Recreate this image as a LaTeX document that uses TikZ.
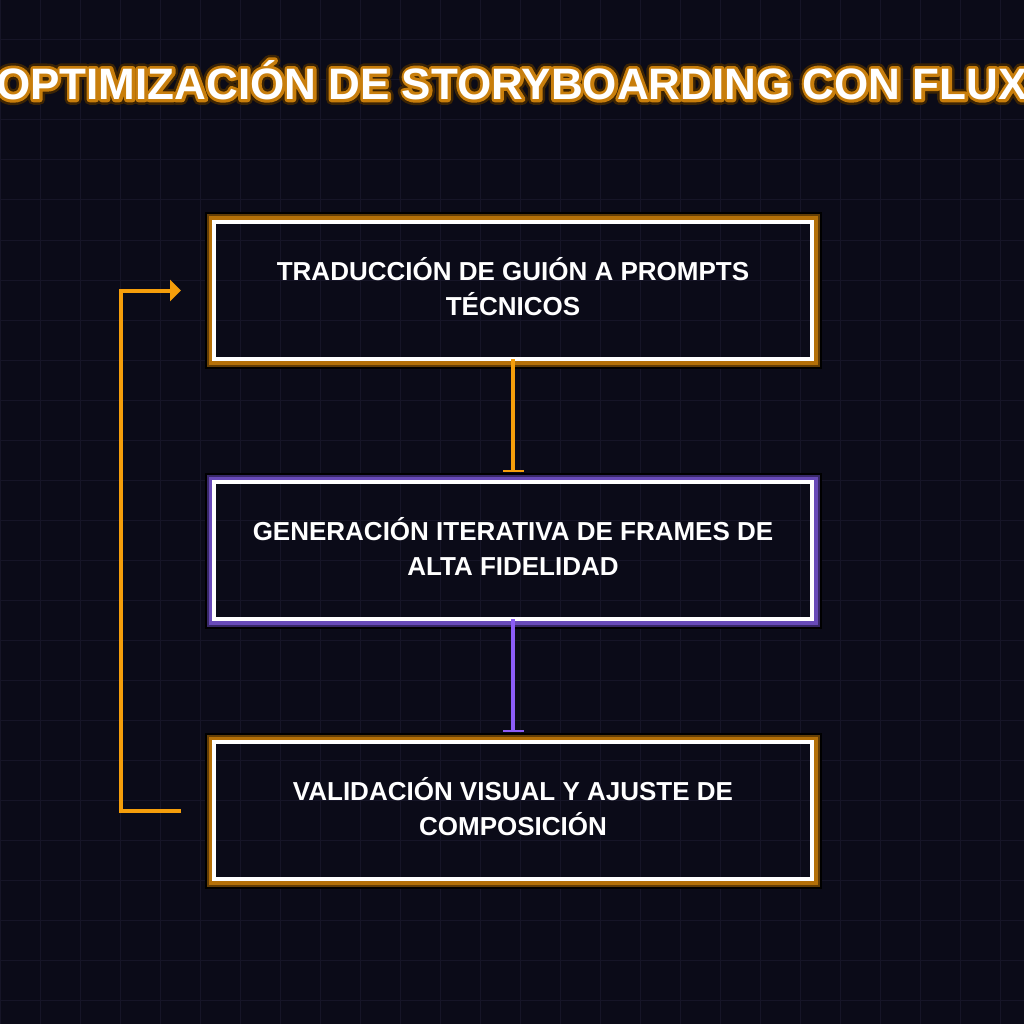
\documentclass[tikz,border=0pt]{standalone}
\usepackage{fontspec}
\setmainfont{Liberation Sans}
\usepackage{xcolor}
\usetikzlibrary{positioning, calc, arrows.meta}

\definecolor{bgdark}{RGB}{11,11,24}
\definecolor{gridline}{RGB}{22,21,39}
\definecolor{amber}{RGB}{245,158,11}
\definecolor{violet}{RGB}{139,92,246}
\definecolor{amberglow}{RGB}{180,112,8}
\definecolor{amberdeep}{RGB}{100,62,5}
\definecolor{violetglow}{RGB}{104,74,184}
\definecolor{violetdeep}{RGB}{56,40,104}
\definecolor{titlerim}{RGB}{60,36,4}
\definecolor{titleedge}{RGB}{200,126,12}

% stroked copy of a text (render mode 1), for the glow round the title
\newcommand{\outlinetext}[3]{\color{#2}\special{pdf:literal direct 1 Tr #1 w 1 j}#3\special{pdf:literal direct 0 Tr}}

\begin{document}
\begin{tikzpicture}[x=1pt, y=-1pt,
    stage/.style={draw=white, line width=4pt, minimum width=598pt, minimum height=137pt, inner sep=0pt, outer sep=0pt, text depth=9pt, align=center, text=white, font=\bfseries\fontsize{26}{35}\selectfont},
    headline/.style={font=\bfseries\fontsize{44}{50}\selectfont, inner sep=0pt},
    flow/.style={line width=4pt, shorten >=10.3pt, -{Rectangle[length=2pt, width=21pt]}},
    backflow/.style={line width=4pt, amber}]
    % Background and grid
    \fill[bgdark] (0,0) rectangle (1024,1024);
    \useasboundingbox (0,0) rectangle (1024,1024);
    \foreach \g in {0,40,...,1000} {\draw[gridline, line width=1pt] (\g,0) -- (\g,1024); \draw[gridline, line width=1pt] (0,\g) -- (1024,\g);}
    % Title with glow
    \node[headline] (titlerim) at (512,80) {\outlinetext{11}{titlerim}{OPTIMIZACIÓN DE STORYBOARDING CON FLUX}};
    \node[headline] (titleedge) at (512,80) {\outlinetext{6}{titleedge}{OPTIMIZACIÓN DE STORYBOARDING CON FLUX}};
    \node[headline, text=white] (title) at (512,80) {OPTIMIZACIÓN DE STORYBOARDING CON FLUX};
    % Stages
    \node[stage] (trad) at (513,290.5) {TRADUCCIÓN DE GUIÓN A PROMPTS\\TÉCNICOS};
    \node[stage, below=123pt of trad] (gen) {GENERACIÓN ITERATIVA DE FRAMES DE\\ALTA FIDELIDAD};
    \node[stage, below=123pt of gen] (valid) {VALIDACIÓN VISUAL Y AJUSTE DE\\COMPOSICIÓN};
    % Glow rings outside the white frames
    \foreach \n/\ca/\cb in {trad/amberglow/amberdeep, gen/violetglow/violetdeep, valid/amberglow/amberdeep} {
      \draw[\ca, line width=3.5pt] ($(\n.south west)+(-3.75,3.75)$) rectangle ($(\n.north east)+(3.75,-3.75)$);
      \draw[\cb, line width=2pt] ($(\n.south west)+(-6.5,6.5)$) rectangle ($(\n.north east)+(6.5,-6.5)$);
      \draw[black, line width=2pt] ($(\n.south west)+(-8.5,8.5)$) rectangle ($(\n.north east)+(8.5,-8.5)$);
    }
    % Connectors
    \draw[flow, amber] (trad.south) -- (gen.north);
    \draw[flow, violet] (gen.south) -- (valid.north);
    % Feedback loop
    \coordinate (loopout) at ($(valid.west)+(-33,0)$);
    \coordinate (loopin) at ($(trad.west)+(-33,0)$);
    \draw[backflow, -{Triangle[length=11pt, width=21pt]}] (loopout) -- ++(-60.5,0) |- (loopin);
\end{tikzpicture}
\end{document}
